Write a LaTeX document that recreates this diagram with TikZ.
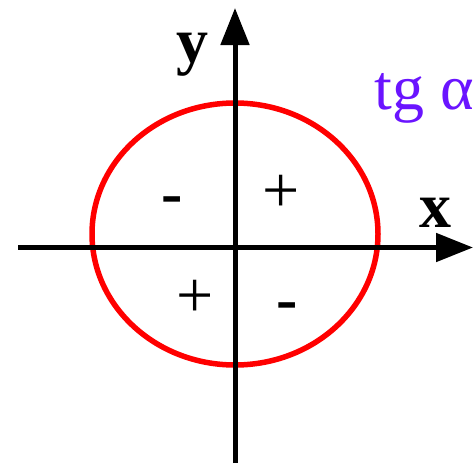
\documentclass[tikz,border=0pt]{standalone}
\usepackage{fontspec}
\setmainfont{Liberation Serif}
\usetikzlibrary{arrows.meta}
\definecolor{tgpurple}{RGB}{106,20,255}
\definecolor{ellred}{RGB}{255,0,0}
\tikzset{
  axis/.style={line width=5pt, -{Triangle[length=37pt,width=28pt]}},
  curve/.style={ellred, line width=5.5pt},
  bigbold/.style={font=\fontsize{64}{64}\selectfont\bfseries, inner sep=0pt, anchor=base},
  sign/.style={font=\fontsize{66}{66}\selectfont, inner sep=0pt, anchor=base},
  boldsign/.style={font=\fontsize{64}{64}\selectfont\bfseries, inner sep=0pt, anchor=base},
  fnlabel/.style={font=\fontsize{64}{64}\selectfont, text=tgpurple, inner sep=0pt, anchor=base}
}
\begin{document}
\begin{tikzpicture}[x=1pt,y=-1pt]
\useasboundingbox (0,0) rectangle (476,463);
\coordinate (c) at (235,234);
\coordinate (xs) at (18,247.5);
\coordinate (xe) at (473,247.5);
\coordinate (ys) at (235,463);
\coordinate (ye) at (235,8);
\draw[curve] (c) ellipse [x radius=143, y radius=131];
\draw[axis] (xs) -- (xe);
\draw[axis] (ys) -- (ye);
\node[bigbold] (ylab) at (192,62) {y};
\node[bigbold] (xlab) at (435,227) {x};
\node[fnlabel] (tg) at (424,109) {tg α};
\node[boldsign] (m1) at (172.5,214.5) {-};
\node[boldsign] (m2) at (287.5,320.5) {-};
\node[sign] (p1) at (281,212) {+};
\node[sign] (p2) at (195,317.5) {+};
\end{tikzpicture}
\end{document}
